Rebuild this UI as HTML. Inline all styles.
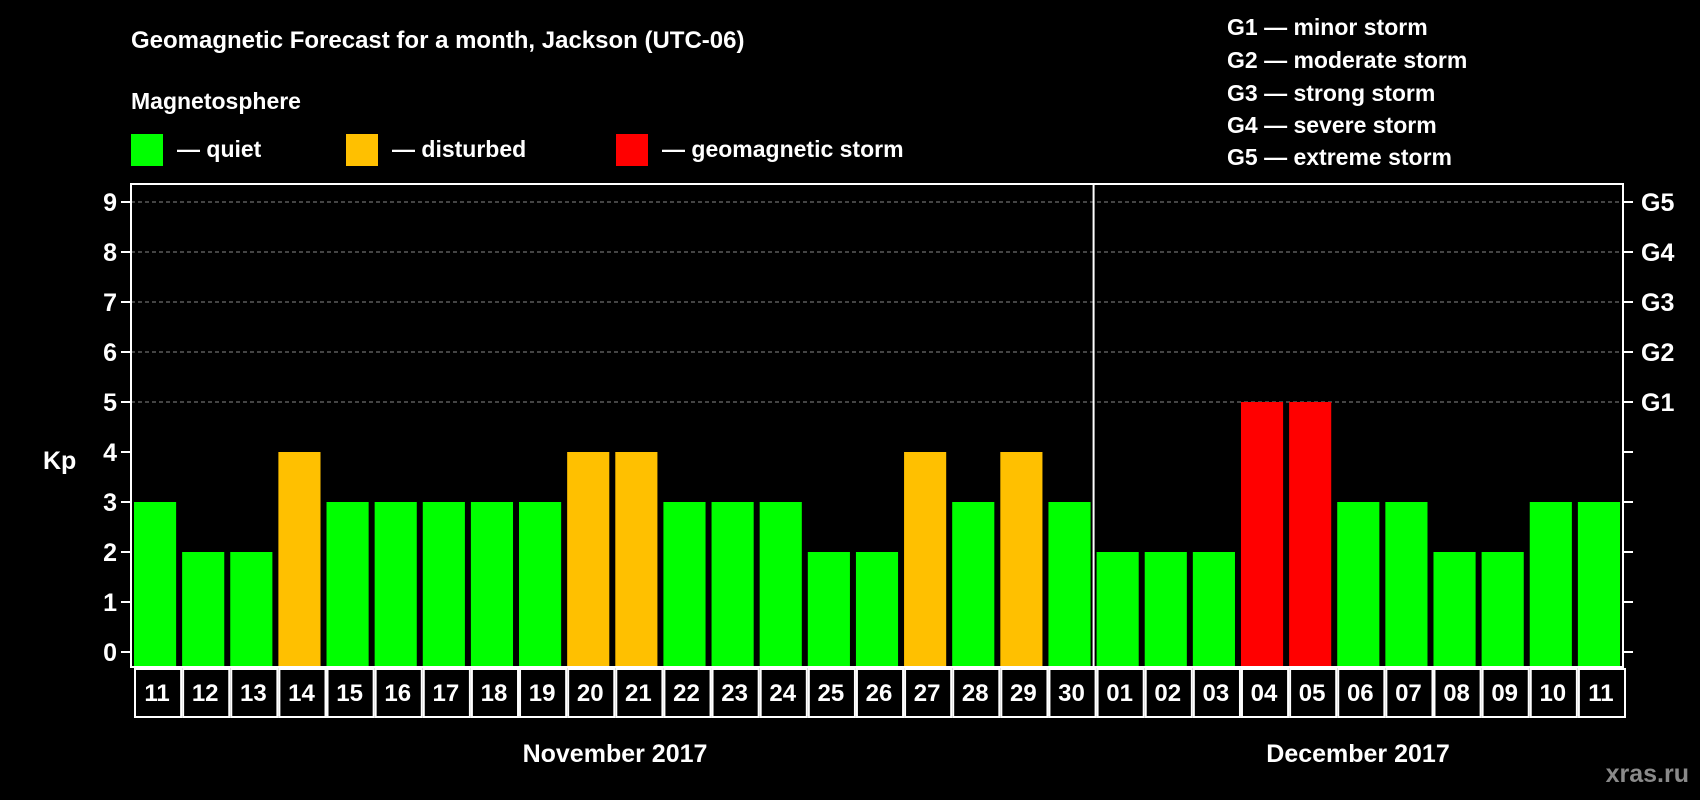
<!DOCTYPE html>
<html><head><meta charset="utf-8"><style>
html,body{margin:0;padding:0;background:#000;}
svg{display:block;font-family:"Liberation Sans",Arial,sans-serif;font-weight:bold;}
</style></head><body>
<svg id="chart" width="1700" height="800" viewBox="0 0 1700 800" xmlns="http://www.w3.org/2000/svg">
<rect width="1700" height="800" fill="#000"/>
<text x="131" y="48" fill="#fff" font-size="24">Geomagnetic Forecast for a month, Jackson (UTC-06)</text>
<text x="131" y="109" fill="#fff" font-size="23">Magnetosphere</text>
<g>
<rect x="131" y="134" width="32" height="32" fill="#00ff00"/>
<text x="177" y="157" fill="#fff" font-size="23">— quiet</text>
<rect x="346" y="134" width="32" height="32" fill="#ffc000"/>
<text x="392" y="157" fill="#fff" font-size="23">— disturbed</text>
<rect x="616" y="134" width="32" height="32" fill="#ff0000"/>
<text x="662" y="157" fill="#fff" font-size="23">— geomagnetic storm</text>
</g>
<g fill="#fff" font-size="23">
<text x="1227" y="35">G1 — minor storm</text>
<text x="1227" y="68">G2 — moderate storm</text>
<text x="1227" y="101">G3 — strong storm</text>
<text x="1227" y="133">G4 — severe storm</text>
<text x="1227" y="165">G5 — extreme storm</text>
</g>
<g id="plot"></g>
<text x="43" y="469" fill="#fff" font-size="25">Kp</text>
<text x="615" y="762" fill="#fff" font-size="25" text-anchor="middle">November 2017</text>
<text x="1358" y="762" fill="#fff" font-size="25" text-anchor="middle">December 2017</text>
<text x="1689" y="782" fill="#8a8a8a" font-size="25" text-anchor="end">xras.ru</text>
</svg>
<script>
const days = ["11","12","13","14","15","16","17","18","19","20","21","22","23","24","25","26","27","28","29","30","01","02","03","04","05","06","07","08","09","10","11"];
const kpValues = [3,2,2,4,3,3,3,3,3,4,4,3,3,3,2,2,4,3,4,3,2,2,2,5,5,3,3,2,2,3,3];
const yTicks = [0,1,2,3,4,5,6,7,8,9];
const gLabels = ["G1","G2","G3","G4","G5"];
const gLevels = [5,6,7,8,9];
const monthBreakIndex = 20;

const NS="http://www.w3.org/2000/svg";
const L=131,R=1623,T=184,B=667,Y0=652,UNIT=50;
const slot=(R-L)/days.length;
const xs=i=>L+i*slot;
const ys=v=>Y0-v*UNIT;
const g=document.getElementById('plot');
function mk(tag,attrs){const e=document.createElementNS(NS,tag);for(const k in attrs)e.setAttribute(k,attrs[k]);g.appendChild(e);return e;}
// grid
yTicks.forEach(v=>{if(v>=5){const l=mk('line',{x1:L,x2:R,y1:ys(v),y2:ys(v),stroke:'#888','stroke-dasharray':'4,3','stroke-width':1});

}
const t=mk('line',{x1:L-10,x2:L,y1:ys(v),y2:ys(v),stroke:'#fff','stroke-width':2});


const t2=mk('line',{x1:R,x2:R+10,y1:ys(v),y2:ys(v),stroke:'#fff','stroke-width':2});


const tx=mk('text',{x:L-14,y:ys(v)+9,fill:'#fff','font-size':25,'text-anchor':'end'});tx.textContent=v;

});
gLevels.forEach((v,i)=>{const tx=mk('text',{x:R+18,y:ys(v)+9,fill:'#fff','font-size':25});tx.textContent=gLabels[i];

});
// bars
kpValues.forEach((v,i)=>{const c=v>=5?'#ff0000':(v>=4?'#ffc000':'#00ff00');
const r=mk('rect',{x:xs(i)+3,y:ys(v),width:slot-6,height:B-ys(v),fill:c});


const cell=mk('rect',{x:xs(i)+4,y:B+2,width:slot-2,height:48,fill:'none',stroke:'#fff','stroke-width':2});


const tx=mk('text',{x:xs(i)+slot/2+2,y:B+34,fill:'#fff','font-size':24,'text-anchor':'middle'});tx.textContent=days[i];

});
// frame & divider
const f=mk('rect',{x:L,y:T,width:R-L,height:B-T,fill:'none',stroke:'#fff','stroke-width':2});


const d=mk('line',{x1:xs(monthBreakIndex),x2:xs(monthBreakIndex),y1:T,y2:B,stroke:'#fff','stroke-width':2});


</script>
</body></html>
